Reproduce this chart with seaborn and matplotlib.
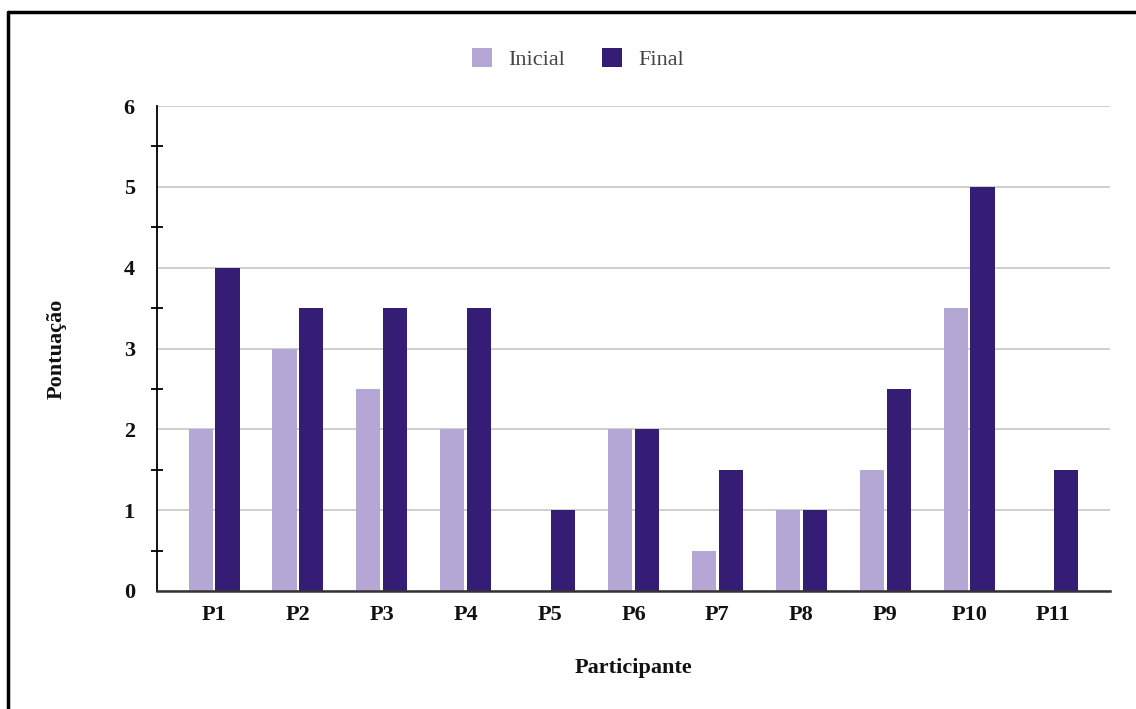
import matplotlib
matplotlib.use("Agg")
import matplotlib.pyplot as plt
from matplotlib.lines import Line2D
from matplotlib.ticker import MultipleLocator
import seaborn as sns
import pandas as pd

participantes = ["P1", "P2", "P3", "P4", "P5", "P6", "P7", "P8", "P9", "P10", "P11"]
inicial = [2, 3, 2.5, 2, 0, 2, 0.5, 1, 1.5, 3.5, 0]
final = [4, 3.5, 3.5, 3.5, 1, 2, 1.5, 1, 2.5, 5, 1.5]
series = ["Inicial", "Final"]
cores = ["#b4a7d6", "#351c75"]

df = pd.DataFrame({
    "Participante": participantes * 2,
    "Pontuação": inicial + final,
    "Série": [series[0]] * len(participantes) + [series[1]] * len(participantes),
})

sns.set_theme(style="white")
plt.rcParams["font.family"] = ["Liberation Serif", "DejaVu Serif"]

W, H = 1136, 709
fig = plt.figure(figsize=(W / 100, H / 100), dpi=100)
ax = fig.add_axes([157 / W, 1 - 591 / H, (1110 - 157) / W, (591 - 106) / H])

sns.barplot(
    data=df, x="Participante", y="Pontuação", hue="Série",
    order=participantes, hue_order=series, palette=cores,
    width=0.64, gap=0.1, linewidth=0, saturation=1, ax=ax, legend=False,
)

ax.set_xlim(-0.68, len(participantes) - 1 + 0.68)
ax.set_ylim(0, 6)
ax.yaxis.set_major_locator(MultipleLocator(1))
ax.yaxis.set_minor_locator(MultipleLocator(0.5))
ax.grid(axis="y", which="major", color="#cccccc", linewidth=1.3)
ax.set_axisbelow(True)

for side in ["top", "right"]:
    ax.spines[side].set_visible(False)
ax.spines["left"].set_color("black")
ax.spines["left"].set_linewidth(1.3)
ax.spines["bottom"].set_color("#333333")
ax.spines["bottom"].set_linewidth(1.8)

ax.tick_params(axis="y", which="major", left=False, length=0, pad=16)
ax.tick_params(axis="y", which="minor", left=True, length=9, width=1.3,
               direction="inout", color="black")
ax.tick_params(axis="x", length=0, pad=10)
for lab in ax.get_yticklabels() + ax.get_xticklabels():
    lab.set_fontweight("bold")
    lab.set_fontsize(16)
    lab.set_color("#111111")

ax.set_xlabel("Participante", fontsize=16, fontweight="bold", color="#111111")
ax.set_ylabel("Pontuação", fontsize=16, fontweight="bold", color="#111111")
ax.xaxis.set_label_coords(0.5, (591 - 668) / (591 - 106), transform=ax.transAxes)
ax.yaxis.set_label_coords((57 - 157) / (1110 - 157), 0.5, transform=ax.transAxes)
ax.xaxis.label.set_va("center")
ax.yaxis.label.set_va("center")

handles = [plt.Rectangle((0, 0), 1, 1, facecolor=c, edgecolor="none") for c in cores]
fig.legend(
    handles, series, loc="center", bbox_to_anchor=(578 / W, 1 - 59 / H), ncol=2,
    frameon=False, fontsize=16, handlelength=0.9, handleheight=0.9,
    handletextpad=0.7, columnspacing=1.7, labelcolor="#444444",
)

# open frame along the top and left edges
fig.add_artist(Line2D([8 / W, 1], [1 - 12 / H] * 2, transform=fig.transFigure, color="black", lw=2.5))
fig.add_artist(Line2D([8 / W, 8 / W], [0, 1 - 12 / H], transform=fig.transFigure, color="black", lw=2.5))

fig.savefig("out.png", dpi=100)
